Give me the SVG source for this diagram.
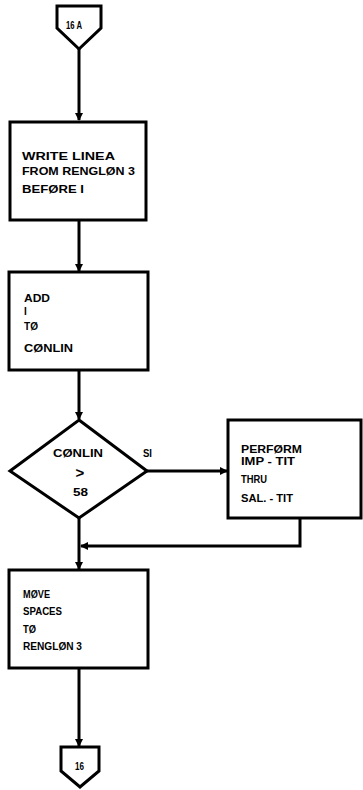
<svg xmlns="http://www.w3.org/2000/svg" width="363" height="790" viewBox="0 0 363 790">
<defs>
<style>
.s{fill:#fff;stroke:#000;stroke-width:3}
.c{fill:none;stroke:#000;stroke-width:3}
.t{font-family:"Liberation Sans",Arial,sans-serif;font-weight:bold;font-size:10px;fill:#000}
.m{text-anchor:middle}
</style>
<marker id="a" markerWidth="8" markerHeight="8" refX="7" refY="4" orient="auto" markerUnits="userSpaceOnUse">
<path d="M0,0 L8,4 L0,8 Z" fill="#000"/>
</marker>
</defs>
<g id="connectors">
<path class="c" d="M79,49 V120" marker-end="url(#a)"/>
<path class="c" d="M79,220 V271" marker-end="url(#a)"/>
<path class="c" d="M79,370 V419" marker-end="url(#a)"/>
<path class="c" d="M147,471 H227" marker-end="url(#a)"/>
<path class="c" d="M300,518 V546 H81" marker-end="url(#a)"/>
<path class="c" d="M79,518 V569" marker-end="url(#a)"/>
<path class="c" d="M79,668 V746" marker-end="url(#a)"/>
<text class="t" x="143" y="457" textLength="9" lengthAdjust="spacingAndGlyphs">SI</text>
</g>
<g id="c16a">
<path class="s" d="M57,6 H101 V28 L79,49 L57,28 Z"/>
<text class="t" x="66" y="29" textLength="16" lengthAdjust="spacingAndGlyphs">16 A</text>
</g>
<g id="write">
<rect class="s" x="10" y="122" width="136" height="98"/>
<text class="t" x="22" y="160" textLength="93" lengthAdjust="spacingAndGlyphs">WRITE LINEA</text>
<text class="t" x="22" y="175" textLength="113" lengthAdjust="spacingAndGlyphs">FROM RENGLØN 3</text>
<text class="t" x="22" y="193" textLength="62" lengthAdjust="spacingAndGlyphs">BEFØRE I</text>
</g>
<g id="add">
<rect class="s" x="9" y="272" width="139" height="98"/>
<text class="t" x="24" y="302" textLength="26" lengthAdjust="spacingAndGlyphs">ADD</text>
<text class="t" x="24" y="315">I</text>
<text class="t" x="24" y="330" textLength="14" lengthAdjust="spacingAndGlyphs">TØ</text>
<text class="t" x="24" y="352" textLength="49" lengthAdjust="spacingAndGlyphs">CØNLIN</text>
</g>
<g id="decision">
<path class="s" d="M79,420 L147,471 L79,518 L10,471 Z"/>
<text class="t" x="53" y="457" textLength="50" lengthAdjust="spacingAndGlyphs">CØNLIN</text>
<text class="t m" x="80" y="478" style="font-size:15px">&gt;</text>
<text class="t" x="73" y="496" textLength="15" lengthAdjust="spacingAndGlyphs">58</text>
</g>
<g id="perform">
<rect class="s" x="228" y="420" width="133" height="98"/>
<text class="t" x="241" y="453" textLength="61" lengthAdjust="spacingAndGlyphs">PERFØRM</text>
<text class="t" x="241" y="465" textLength="54" lengthAdjust="spacingAndGlyphs">IMP - TIT</text>
<text class="t" x="241" y="483" textLength="26" lengthAdjust="spacingAndGlyphs">THRU</text>
<text class="t" x="241" y="502" textLength="52" lengthAdjust="spacingAndGlyphs">SAL. - TIT</text>
</g>
<g id="move">
<rect class="s" x="9" y="570" width="139" height="98"/>
<text class="t" x="23" y="598" textLength="27" lengthAdjust="spacingAndGlyphs">MØVE</text>
<text class="t" x="23" y="615" textLength="39" lengthAdjust="spacingAndGlyphs">SPACES</text>
<text class="t" x="23" y="633" textLength="13" lengthAdjust="spacingAndGlyphs">TØ</text>
<text class="t" x="23" y="650" textLength="59" lengthAdjust="spacingAndGlyphs">RENGLØN 3</text>
</g>
<g id="c16">
<path class="s" d="M61,747 H99 V771 L80,787 L61,771 Z"/>
<text class="t" x="75" y="770" textLength="9" lengthAdjust="spacingAndGlyphs">16</text>
</g>
</svg>
